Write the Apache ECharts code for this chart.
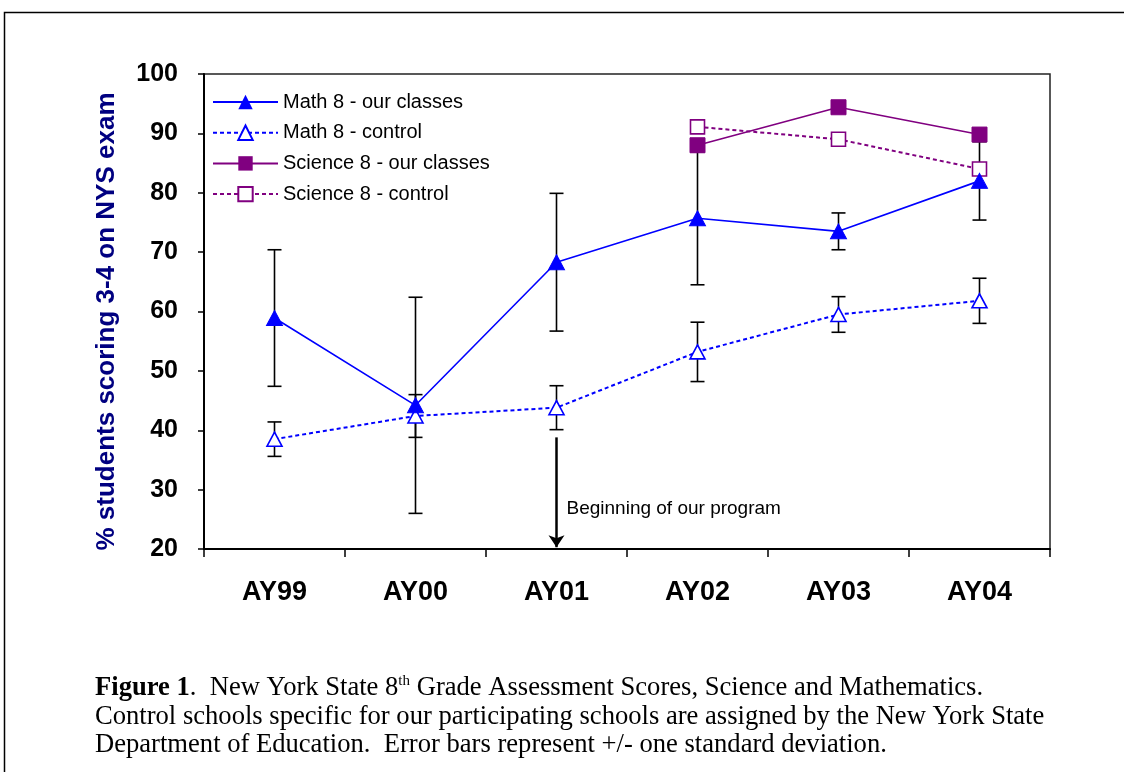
<!DOCTYPE html>
<html>
<head>
<meta charset="utf-8">
<script src="https://cdn.jsdelivr.net/npm/echarts@6/dist/echarts.min.js"></script>
<style>
html,body{margin:0;padding:0;background:#fff;}
#chart{width:1124px;height:772px;}
</style>
</head>
<body>
<div id="chart"></div>
<script>
const categories = ['AY99', 'AY00', 'AY01', 'AY02', 'AY03', 'AY04'];
const mathOur = [58.9, 44.2, 68.3, 75.7, 73.5, 82.0];
const mathOurSD = [11.5, 18.2, 11.6, 11.2, 3.1, 6.6];
const mathControl = [38.5, 42.4, 43.8, 53.2, 59.5, 61.8];
const mathControlSD = [2.9, 3.6, 3.7, 5.0, 3.0, 3.8];
const sciOur = [null, null, null, 88.0, 94.4, 89.8];
const sciControl = [null, null, null, 91.1, 89.0, 84.0];
const seriesNames = ['Math 8 - our classes', 'Math 8 - control', 'Science 8 - our classes', 'Science 8 - control'];
const yTicks = {min: 20, max: 100, interval: 10};
const arrowFrom = 38.8, arrowTo = 20.3, arrowCategory = 'AY01', noteValue = 26.8;
const noteText = 'Beginning of our program';
const yTitle = '% students scoring 3-4 on NYS exam';
const captionText = '{b|Figure 1}{n|.  New York State 8}{sup|th}{n| Grade Assessment Scores, Science and Mathematics.}\n' +
  '{n|Control schools specific for our participating schools are assigned by the New York State}\n' +
  '{n|Department of Education.  Error bars represent +/- one standard deviation.}';

const BLUE = '#0000ff', PURPLE = '#800080';
const sans = 'Arial, "Liberation Sans", sans-serif';
const serif = '"Times New Roman", "Liberation Serif", serif';

function errData(means, sds) {
  return means.map((m, i) => [i, m, sds[i]]);
}
function renderErr(params, api) {
  const i = api.value(0), m = api.value(1), sd = api.value(2);
  const top = api.coord([i, m + sd]);
  const bot = api.coord([i, m - sd]);
  const w = 7;
  const st = {stroke: '#000', lineWidth: 1.6};
  return {
    type: 'group',
    children: [
      {type: 'line', shape: {x1: top[0], y1: top[1], x2: bot[0], y2: bot[1]}, style: st},
      {type: 'line', shape: {x1: top[0] - w, y1: top[1], x2: top[0] + w, y2: top[1]}, style: st},
      {type: 'line', shape: {x1: bot[0] - w, y1: bot[1], x2: bot[0] + w, y2: bot[1]}, style: st}
    ]
  };
}

const chart = echarts.init(document.getElementById('chart'), null, {renderer: 'canvas'});
chart.setOption({
  animation: false,
  backgroundColor: '#fff',
  grid: {left: 204, right: 74, top: 74, bottom: 223, show: true, borderColor: '#222', borderWidth: 1.5, backgroundColor: 'transparent'},
  legend: {
    data: seriesNames,
    orient: 'vertical',
    left: 212, top: 92,
    padding: 0,
    itemWidth: 65, itemHeight: 18, itemGap: 10.7,
    textStyle: {fontFamily: sans, fontSize: 20, color: '#000', lineHeight: 18},
    selectedMode: false
  },
  xAxis: {
    type: 'category',
    data: categories,
    boundaryGap: true,
    axisLine: {lineStyle: {color: '#000', width: 2}},
    axisTick: {show: true, length: 8, lineStyle: {color: '#000', width: 1.5}},
    axisLabel: {fontFamily: sans, fontWeight: 'bold', fontSize: 27, color: '#000', margin: 30},
    splitLine: {show: false}
  },
  yAxis: {
    type: 'value',
    min: yTicks.min, max: yTicks.max, interval: yTicks.interval,
    name: yTitle,
    nameLocation: 'middle',
    nameGap: 84,
    nameRotate: 90,
    nameTextStyle: {fontFamily: sans, fontWeight: 'bold', fontSize: 26, color: '#000080', padding: [0, 20, 0, 0]},
    axisLine: {show: true, lineStyle: {color: '#000', width: 2}},
    axisTick: {show: true, length: 6, lineStyle: {color: '#000', width: 1.5}},
    axisLabel: {fontFamily: sans, fontWeight: 'bold', fontSize: 25, color: '#000', margin: 26},
    splitLine: {show: false}
  },
  series: [
    {
      type: 'custom', name: 'errMathOur', z: 1,
      renderItem: renderErr, data: errData(mathOur, mathOurSD),
      encode: {x: 0, y: 1}
    },
    {
      type: 'custom', name: 'errMathControl', z: 1,
      renderItem: renderErr, data: errData(mathControl, mathControlSD),
      encode: {x: 0, y: 1}
    },
    {
      type: 'line', name: seriesNames[1], z: 3, data: mathControl,
      symbol: 'triangle', symbolSize: [15, 14],
      lineStyle: {color: BLUE, width: 2, type: [4, 3]},
      itemStyle: {color: '#fff', borderColor: BLUE, borderWidth: 1.6},
      color: BLUE,
      markLine: {
        silent: true,
        symbol: ['none', 'arrow'],
        symbolSize: 12,
        lineStyle: {color: '#000', width: 2.5, type: 'solid'},
        label: {show: false},
        data: [[{coord: [arrowCategory, arrowFrom]}, {coord: [arrowCategory, arrowTo]}]]
      },
      markPoint: {
        silent: true,
        symbol: 'circle', symbolSize: 0,
        label: {show: true, position: 'right', distance: 10, formatter: noteText, fontFamily: sans, fontSize: 19, color: '#000'},
        data: [{coord: [arrowCategory, noteValue]}]
      }
    },
    {
      type: 'line', name: seriesNames[0], z: 4, data: mathOur,
      symbol: 'triangle', symbolSize: [16, 15],
      lineStyle: {color: BLUE, width: 1.6},
      itemStyle: {color: BLUE, borderColor: BLUE},
      color: BLUE
    },
    {
      type: 'line', name: seriesNames[3], z: 3, data: sciControl,
      symbol: 'rect', symbolSize: 14,
      lineStyle: {color: PURPLE, width: 2, type: [4, 3]},
      itemStyle: {color: '#fff', borderColor: PURPLE, borderWidth: 1.6},
      color: PURPLE
    },
    {
      type: 'line', name: seriesNames[2], z: 4, data: sciOur,
      symbol: 'rect', symbolSize: 15,
      lineStyle: {color: PURPLE, width: 1.6},
      itemStyle: {color: PURPLE, borderColor: PURPLE},
      color: PURPLE
    }
  ],
  graphic: [
    {
      type: 'polyline', silent: true,
      shape: {points: [[4.5, 772], [4.5, 12.5], [1124, 12.5]]},
      style: {stroke: '#000', lineWidth: 1.5, fill: null}
    },
    {
      type: 'text', left: 95, top: 674, silent: true,
      style: {
        text: captionText,
        fontFamily: serif, fontSize: 26.6, lineHeight: 28.5, fill: '#000',
        rich: {
          b: {fontFamily: serif, fontSize: 26.6, fontWeight: 'bold', lineHeight: 28.5},
          n: {fontFamily: serif, fontSize: 26.6, lineHeight: 28.5},
          sup: {fontFamily: serif, fontSize: 15, lineHeight: 28.5, verticalAlign: 'top', padding: [0, 0, 12, 0]}
        }
      }
    }
  ]
});
</script>
</body>
</html>
